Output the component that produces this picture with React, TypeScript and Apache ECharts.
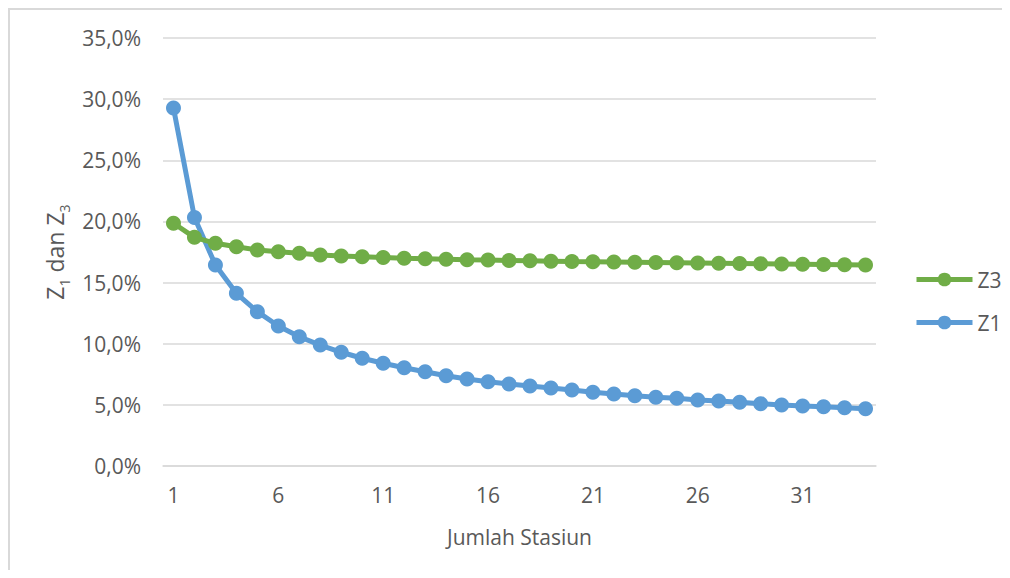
import React, { useEffect, useRef } from "react";
import * as echarts from "echarts";

// Number of stations on the horizontal axis
const stations: string[] = Array.from({ length: 34 }, (_, i) => String(i + 1));

// Z1 (percent)
const z1: number[] = [
  29.27, 20.33, 16.44, 14.12, 12.62, 11.45, 10.57, 9.89, 9.3, 8.81,
  8.4, 8.04, 7.71, 7.38, 7.11, 6.89, 6.71, 6.54, 6.38, 6.21,
  6.03, 5.89, 5.75, 5.62, 5.54, 5.4, 5.32, 5.21, 5.09, 4.99,
  4.91, 4.85, 4.77, 4.69,
];

// Z3 (percent)
const z3: number[] = [
  19.85, 18.7, 18.21, 17.93, 17.66, 17.52, 17.39, 17.26, 17.17, 17.11,
  17.05, 16.99, 16.95, 16.91, 16.87, 16.84, 16.81, 16.78, 16.75, 16.72,
  16.7, 16.68, 16.66, 16.64, 16.62, 16.6, 16.58, 16.56, 16.54, 16.52,
  16.5, 16.48, 16.46, 16.44,
];

const GREEN = "#70AD47";
const BLUE = "#5B9BD5";
const GRID = "#D9D9D9";
const TEXT = "#595959";
const FONT = "'Open Sans', sans-serif";

export default function App() {
  const ref = useRef<HTMLDivElement>(null);

  useEffect(() => {
    if (!ref.current) return;
    const chart = echarts.init(ref.current, null, { renderer: "svg" });

    const lineSeries = (name: string, data: number[], color: string) => ({
      name,
      type: "line",
      data,
      symbol: "circle",
      symbolSize: 15,
      showSymbol: true,
      showAllSymbol: true,
      lineStyle: { color, width: 5 },
      itemStyle: { color },
    });

    chart.setOption({
      animation: false,
      textStyle: { fontFamily: FONT },
      // chart-area frame: only its left and top edges fall inside the view
      graphic: [
        {
          type: "line",
          shape: { x1: 1, y1: 0, x2: 1, y2: 600 },
          style: { stroke: GRID, lineWidth: 2 },
          silent: true,
        },
        {
          type: "line",
          shape: { x1: 0, y1: 1, x2: 1100, y2: 1 },
          style: { stroke: GRID, lineWidth: 2 },
          silent: true,
        },
      ],
      grid: { left: 155, right: 126, top: 30, bottom: 104 },
      legend: {
        orient: "vertical",
        left: 901,
        top: 256,
        itemWidth: 56,
        itemHeight: 17,
        itemGap: 22,
        data: ["Z3", "Z1"],
        lineStyle: { width: 5 },
        textStyle: { color: TEXT, fontSize: 21, fontFamily: FONT },
      },
      xAxis: {
        type: "category",
        data: stations,
        boundaryGap: true,
        axisTick: { show: false },
        axisLine: { lineStyle: { color: GRID, width: 1.5 } },
        axisLabel: {
          interval: 4,
          color: TEXT,
          fontSize: 21,
          fontFamily: FONT,
          margin: 18,
        },
        name: "Jumlah Stasiun",
        nameLocation: "middle",
        nameGap: 60,
        nameTextStyle: { color: TEXT, fontSize: 21, fontFamily: FONT },
      },
      yAxis: {
        type: "value",
        min: 0,
        max: 35,
        interval: 5,
        axisLine: { show: false },
        axisTick: { show: false },
        splitLine: { lineStyle: { color: GRID, width: 1.5 } },
        axisLabel: {
          color: TEXT,
          fontSize: 21,
          fontFamily: FONT,
          margin: 22,
          formatter: (v: number) => v.toFixed(1).replace(".", ",") + "%",
        },
        name: "Z{s|1} dan Z{s|3}",
        nameLocation: "middle",
        nameGap: 88,
        nameTextStyle: {
          color: TEXT,
          fontSize: 23,
          fontFamily: FONT,
          rich: {
            s: {
              color: TEXT,
              fontSize: 14,
              fontFamily: FONT,
              verticalAlign: "bottom",
              lineHeight: 32,
            },
          },
        },
      },
      series: [lineSeries("Z1", z1, BLUE), lineSeries("Z3", z3, GREEN)],
    });

    return () => chart.dispose();
  }, []);

  return <div ref={ref} style={{ width: 994, height: 562 }} />;
}
